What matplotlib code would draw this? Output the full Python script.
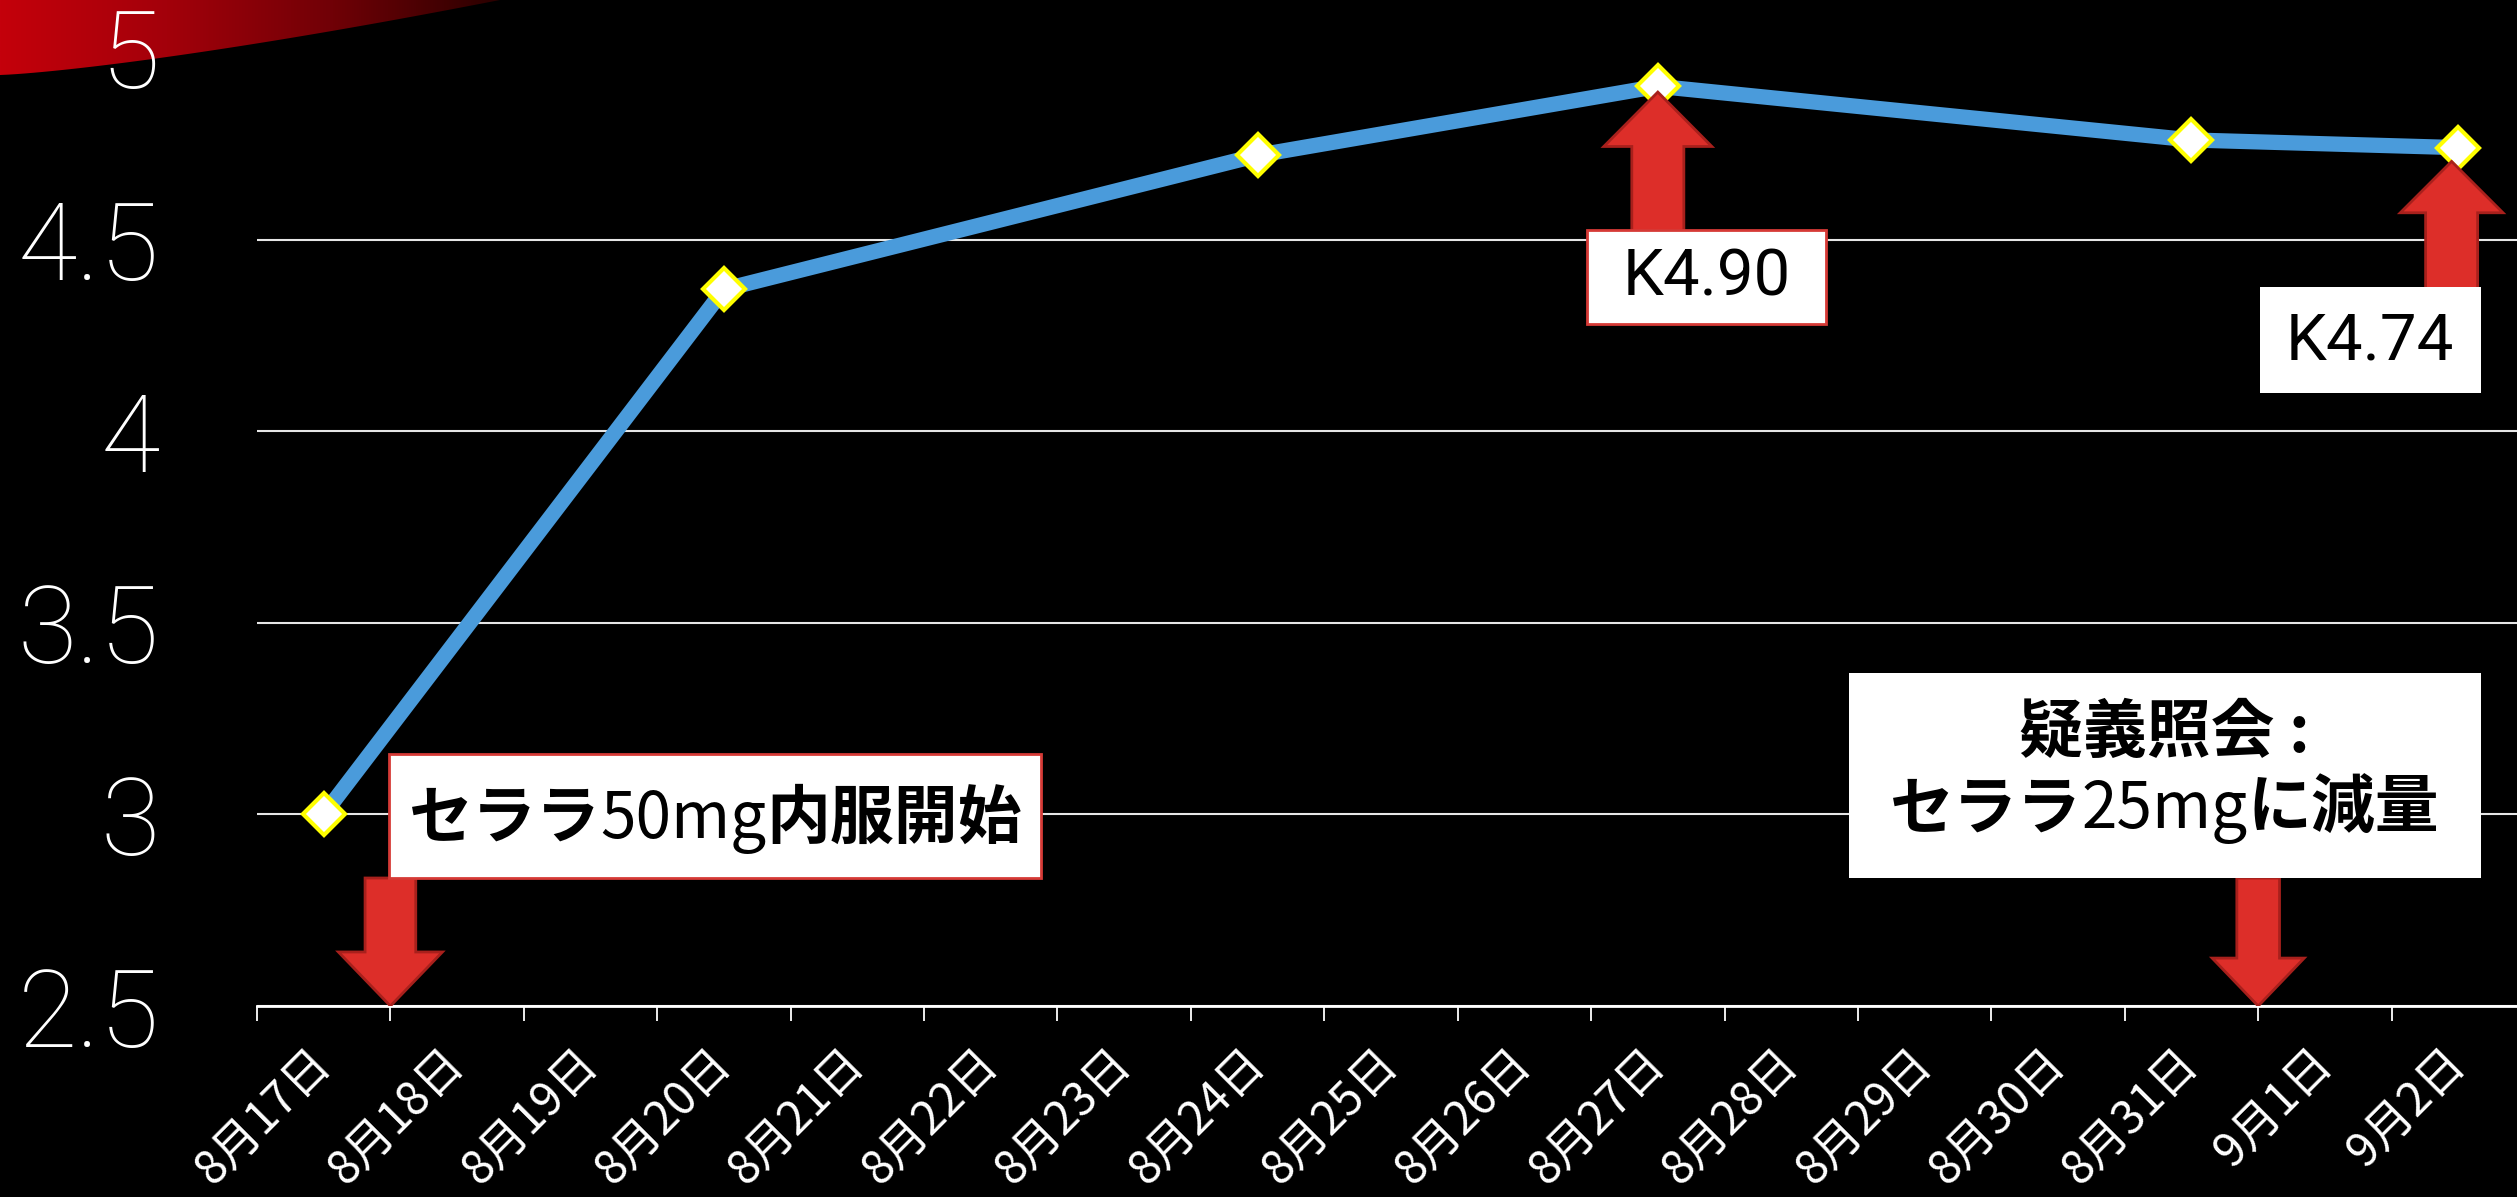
import numpy as np
import matplotlib.pyplot as plt
from matplotlib.patches import Rectangle, FancyArrow, Polygon
from matplotlib.colors import LinearSegmentedColormap
from matplotlib.font_manager import FontProperties
from matplotlib.offsetbox import TextArea, HPacker, VPacker, AnnotationBbox

plt.rcParams['font.family'] = ['Noto Sans CJK JP', 'DejaVu Sans']

# data
date_labels = ['8月17日', '8月18日', '8月19日', '8月20日', '8月21日', '8月22日',
               '8月23日', '8月24日', '8月25日', '8月26日', '8月27日', '8月28日',
               '8月29日', '8月30日', '8月31日', '9月1日', '9月2日']
measured_dates = ['8月17日', '8月20日', '8月24日', '8月27日', '8月31日', '9月2日']
k_values = [3.00, 4.37, 4.72, 4.90, 4.76, 4.74]
y_ticks = [2.5, 3, 3.5, 4, 4.5, 5]
y_tick_labels = ['2.5', '3', '3.5', '4', '4.5', '5']

W, H = 2517, 1197
fig = plt.figure(figsize=(W / 100, H / 100), dpi=100, facecolor='black')

# red swoosh decoration in the top-left corner
bg = fig.add_axes([0, 0, 1, 1], zorder=0)
bg.set_xlim(0, W)
bg.set_ylim(H, 0)
bg.axis('off')
xs = np.linspace(0, 500, 60)
lower = 75 * (1 - (xs / 500) ** 1.3)
verts = [(0, 0)] + list(zip(xs, lower)) + [(500, 0)]
swoosh = Polygon(verts, closed=True, facecolor='none', edgecolor='none')
bg.add_patch(swoosh)
red_cmap = LinearSegmentedColormap.from_list('swoosh', ['#C4000B', '#A3000A', '#700006', '#2A0000'])
im = bg.imshow(np.linspace(0, 1, 256)[None, :], extent=[0, 500, 80, 0], cmap=red_cmap,
               aspect='auto', interpolation='bilinear')
im.set_clip_path(swoosh)

# main chart
ax = fig.add_axes([257 / W, 191 / H, 2268 / W, 958 / H], zorder=1)
ax.set_facecolor('none')

x_idx = [date_labels.index(d) for d in measured_dates]
ax.plot(x_idx, k_values, color='#4A9BDB', lw=11, marker='D', ms=21,
        mfc='white', mec='#FFFF00', mew=3, zorder=3, solid_capstyle='round')

ax.set_xlim(-0.5, len(date_labels) - 0.5)
ax.set_ylim(2.5, 5)

ax.set_yticks(y_ticks, y_tick_labels)
num_font = FontProperties(family='Roboto', weight='light', size=78)
for lbl in ax.get_yticklabels():
    lbl.set_fontproperties(num_font)
    lbl.set_color('white')
ax.tick_params(axis='y', length=0, pad=70)

ax.set_xticks(range(len(date_labels)), date_labels, rotation=45, ha='right',
              va='center', rotation_mode='anchor')
ax.set_xticks(np.arange(-0.5, len(date_labels), 1), minor=True)
ax.tick_params(axis='x', which='major', length=0, pad=36, labelsize=33.5, labelcolor='white')
ax.tick_params(axis='x', which='minor', length=11, width=1.3, color='white', direction='out')

ax.grid(axis='y', color='#E6E6E6', lw=1.5, zorder=1)
ax.yaxis.get_gridlines()[-1].set_visible(False)
ax.set_axisbelow(True)

for side in ['left', 'right', 'top']:
    ax.spines[side].set_visible(False)
ax.spines['bottom'].set_color('white')
ax.spines['bottom'].set_linewidth(2)

# arrows
arrow_kw = dict(length_includes_head=True, facecolor='#DD2E29', edgecolor='#A8201C', lw=2, zorder=4)
ax.add_patch(FancyArrow(0.5, 2.834, 0, -0.334, width=0.38, head_width=0.78, head_length=0.141, **arrow_kw))
ax.add_patch(FancyArrow(10.0, 4.52, 0, 0.365, width=0.39, head_width=0.81, head_length=0.142, **arrow_kw))
ax.add_patch(FancyArrow(15.95, 4.37, 0, 0.334, width=0.39, head_width=0.77, head_length=0.134, **arrow_kw))
ax.add_patch(FancyArrow(14.5, 2.834, 0, -0.334, width=0.32, head_width=0.69, head_length=0.125, **arrow_kw))

# annotation boxes
ax.add_patch(Rectangle((0.49, 2.835), 4.89, 0.323, facecolor='white', edgecolor='#D63A36', lw=2, zorder=5))
ax.add_patch(Rectangle((9.47, 4.28), 1.79, 0.245, facecolor='white', edgecolor='#D63A36', lw=2, zorder=5))
ax.add_patch(Rectangle((14.51, 4.10), 1.66, 0.277, facecolor='white', edgecolor='none', zorder=5))
ax.add_patch(Rectangle((11.43, 2.834), 4.74, 0.535, facecolor='white', edgecolor='none', zorder=5))

bold = dict(fontsize=46, fontweight='bold', color='black')
light = dict(fontsize=46, fontweight='normal', color='black')


def mixed(parts):
    return HPacker(children=[TextArea(t, textprops=p) for t, p in parts], align='baseline', pad=0, sep=0)


start_box = mixed([('セララ', bold), ('50mg', light), ('内服開始', bold)])
ax.add_artist(AnnotationBbox(start_box, (2.935, 2.985), frameon=False, box_alignment=(0.5, 0.5), zorder=6))

reduce_box = VPacker(children=[mixed([('疑義照会 :', bold)]),
                               mixed([('セララ', bold), ('25mg', light), ('に減量', bold)])],
                     align='center', pad=0, sep=8)
ax.add_artist(AnnotationBbox(reduce_box, (13.8, 3.11), frameon=False, box_alignment=(0.5, 0.5), zorder=6))

k_font = FontProperties(family='Roboto', weight='normal', size=47)
ax.text(10.365, 4.40, 'K4.90', fontproperties=k_font, color='black', ha='center', va='center', zorder=6)
ax.text(15.34, 4.235, 'K4.74', fontproperties=k_font, color='black', ha='center', va='center', zorder=6)

fig.savefig('out.png', dpi=100, facecolor='black')
